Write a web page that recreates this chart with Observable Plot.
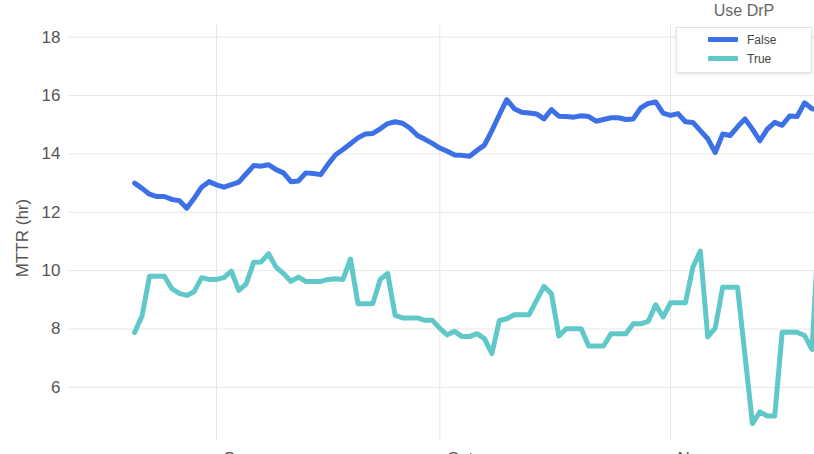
<!DOCTYPE html>
<html>
<head>
<meta charset="utf-8">
<script src="https://cdn.jsdelivr.net/npm/d3@7"></script>
<script src="https://cdn.jsdelivr.net/npm/@observablehq/plot@0.6"></script>
<style>
  html, body { margin: 0; padding: 0; background: #fff; overflow: hidden; }
  body { font-family: "Liberation Sans", Arial, sans-serif; }
  #wrap { position: relative; width: 814px; height: 454px; overflow: hidden; }
  #legend-title { position: absolute; left: 676px; top: 0px; width: 136px; text-align: center;
    font-size: 16px; line-height: 22px; color: #666; }
  #legend-box { position: absolute; left: 676px; top: 27px; width: 134px; height: 44px;
    background: #fff; border: 1px solid #e2e2e2; box-shadow: 0 1px 3px rgba(0,0,0,0.12); }
  .item { position: absolute; left: 0; height: 18px; width: 134px; }
  .swatch { position: absolute; left: 31px; top: 6px; width: 30px; height: 5px; border-radius: 1px; }
  .lab { position: absolute; left: 70px; top: 0; font-size: 12px; line-height: 18px; color: #444; }
</style>
</head>
<body>
<div id="wrap">
  <div id="chart"></div>
  <div id="legend-title"></div>
  <div id="legend-box"></div>
</div>
<script>
// ---- data ----
const legendTitle = "Use DrP";
const yTitle = "MTTR (hr)";
const seriesNames = ["False", "True"];
const seriesColors = ["#3c70e6", "#60c8c9"];
const startDate = "2021-08-21"; // first daily observation
const falseValues = [
  13.0, 12.82, 12.62, 12.54, 12.54, 12.44, 12.40, 12.14, 12.48, 12.86,
  13.05, 12.94, 12.86, 12.95, 13.03, 13.32, 13.6, 13.58, 13.63, 13.46,
  13.35, 13.05, 13.07, 13.35, 13.33, 13.29, 13.65, 13.97, 14.15, 14.35,
  14.55, 14.68, 14.7, 14.86, 15.04, 15.1, 15.05, 14.88, 14.63, 14.5,
  14.36, 14.2, 14.09, 13.96, 13.95, 13.92, 14.12, 14.3, 14.8, 15.34,
  15.86, 15.55, 15.43, 15.4, 15.37, 15.2, 15.52, 15.29, 15.28, 15.26,
  15.31, 15.28, 15.12, 15.18, 15.24, 15.24, 15.18, 15.2, 15.58, 15.73,
  15.78, 15.4, 15.32, 15.38, 15.1, 15.08, 14.8, 14.52, 14.05, 14.68,
  14.63, 14.93, 15.2, 14.85, 14.45, 14.85, 15.08, 14.98, 15.3, 15.28,
  15.75, 15.55, 15.5
];
const trueValues = [
  7.88, 8.45, 9.81, 9.81, 9.81, 9.38, 9.22, 9.15, 9.28, 9.76,
  9.7, 9.7, 9.76, 9.98, 9.32, 9.55, 10.29, 10.3, 10.58, 10.12,
  9.9, 9.63, 9.78, 9.63, 9.63, 9.63, 9.7, 9.72, 9.7, 10.4,
  8.87, 8.87, 8.87, 9.7, 9.9, 8.47, 8.38, 8.38, 8.38, 8.3,
  8.3, 8.02, 7.8, 7.92, 7.74, 7.74, 7.84, 7.67, 7.16, 8.29,
  8.35, 8.49, 8.49, 8.49, 8.98, 9.46, 9.21, 7.76, 8.01, 8.01,
  8.01, 7.42, 7.42, 7.42, 7.84, 7.84, 7.84, 8.18, 8.18, 8.26,
  8.83, 8.41, 8.9, 8.9, 8.9, 10.12, 10.67, 7.73, 8.03, 9.43,
  9.43, 9.43, 7.1, 4.76, 5.16, 5.02, 5.02, 7.89, 7.89, 7.89,
  7.78, 7.3, 11.8
];
const yTicks = [6, 8, 10, 12, 14, 16, 18];
const xTickDates = ["2021-09-01", "2021-10-01", "2021-11-01"];
const xTickLabels = ["Sep", "Oct", "Nov"];
const xDomain = ["2021-08-12T02:50Z", "2021-11-20T08:10Z"];
const yDomain = [4.18, 18.4];

// ---- build table ----
const start = new Date(startDate + "T00:00Z");
const rows = [];
[falseValues, trueValues].forEach((vals, s) => {
  vals.forEach((v, i) => rows.push({ date: d3.utcDay.offset(start, i), value: v, series: seriesNames[s] }));
});
const xTicks = xTickDates.map((d, i) => ({ date: new Date(d + "T00:00Z"), label: xTickLabels[i] }));

const chart = Plot.plot({
  width: 814,
  height: 454,
  marginTop: 25,
  marginBottom: 14,
  marginLeft: 68,
  marginRight: 0,
  style: { fontFamily: '"Liberation Sans", Arial, sans-serif', fontSize: "17px", color: "#555", background: "transparent", overflow: "visible" },
  x: { type: "utc", domain: xDomain.map(d => new Date(d)), axis: null },
  y: { domain: yDomain, ticks: yTicks, tickSize: 0, tickPadding: 8, label: null },
  color: { domain: seriesNames, range: seriesColors },
  marks: [
    Plot.ruleY(yTicks, { stroke: "#e6e6e6", strokeWidth: 1 }),
    Plot.ruleX(xTicks, { x: "date", stroke: "#e6e6e6", strokeWidth: 1 }),
    Plot.text(xTicks, { x: "date", text: "label", frameAnchor: "bottom", lineAnchor: "top", textAnchor: "start", dx: 7, dy: 11, fill: "#555", fontSize: 17 }),
    Plot.line(rows, { x: "date", y: "value", z: "series", stroke: "series", strokeWidth: 5, strokeLinejoin: "round", strokeLinecap: "round", clip: true }),
    Plot.text([yTitle], { frameAnchor: "left", textAnchor: "middle", dx: -46, dy: 5, rotate: -90, text: d => d, fill: "#555", fontSize: 17 })
  ]
});
document.getElementById("chart").appendChild(chart);

// ---- legend ----
document.getElementById("legend-title").textContent = legendTitle;
const box = document.getElementById("legend-box");
seriesNames.forEach((name, i) => {
  const item = document.createElement("div");
  item.className = "item";
  item.style.top = (3 + i * 19) + "px";
  const sw = document.createElement("div");
  sw.className = "swatch";
  sw.style.background = seriesColors[i];
  const lab = document.createElement("div");
  lab.className = "lab";
  lab.textContent = name;
  item.appendChild(sw); item.appendChild(lab);
  box.appendChild(item);
});
</script>
</body>
</html>
